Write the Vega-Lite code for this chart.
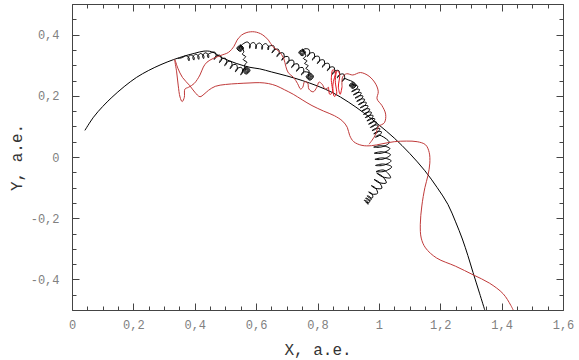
{
"$schema": "https://vega.github.io/schema/vega-lite/v6.json",
"width": 491, "height": 306,
"autosize": {"type": "none"},
"padding": {"left": 72, "top": 4, "right": 16, "bottom": 50},
"config": {"view": {"stroke": null}, "axis": {"labelFont": "Liberation Mono", "titleFont": "Liberation Mono", "labelColor": "#808080", "labelFontSize": 12, "titleFontSize": 16, "titleFontWeight": "normal", "titleColor": "#333333", "tickColor": "#444444", "domainColor": "#444444", "grid": false, "labelOverlap": false, "labelFlush": false}},
"datasets": {
"pts": [
{"s":"b","x":0.042,"y":0.087},{"s":"b","x":0.07,"y":0.13},{"s":"b","x":0.1,"y":0.165},{"s":"b","x":0.13,"y":0.195},{"s":"b","x":0.17,"y":0.23},{"s":"b","x":0.21,"y":0.26},{"s":"b","x":0.25,"y":0.283},{"s":"b","x":0.29,"y":0.302},{"s":"b","x":0.33,"y":0.318},{"s":"b","x":0.37,"y":0.331},{"s":"b","x":0.4,"y":0.339},{"s":"b","x":0.43,"y":0.346},{"s":"b","x":0.455,"y":0.344},{"s":"b","x":0.49,"y":0.324},{"s":"b","x":0.535,"y":0.306},{"s":"b","x":0.58,"y":0.293},{"s":"b","x":0.612,"y":0.288},{"s":"b","x":0.65,"y":0.278},{"s":"b","x":0.7,"y":0.265},{"s":"b","x":0.75,"y":0.25},{"s":"b","x":0.8,"y":0.232},{"s":"b","x":0.85,"y":0.21},{"s":"b","x":0.9,"y":0.18},{"s":"b","x":0.95,"y":0.145},{"s":"b","x":1.0,"y":0.105},{"s":"b","x":1.05,"y":0.062},{"s":"b","x":1.1,"y":0.012},{"s":"b","x":1.15,"y":-0.045},{"s":"b","x":1.19,"y":-0.1},{"s":"b","x":1.225,"y":-0.155},{"s":"b","x":1.25,"y":-0.212},{"s":"b","x":1.272,"y":-0.268},{"s":"b","x":1.29,"y":-0.322},{"s":"b","x":1.307,"y":-0.378},{"s":"b","x":1.328,"y":-0.445},{"s":"b","x":1.345,"y":-0.5},

{"s":"a","x":0.345,"y":0.322},{"s":"a","x":0.36,"y":0.325},
{"s":"a","x":0.3707,"y":0.3309},{"s":"a","x":0.3819,"y":0.3235},{"s":"a","x":0.3813,"y":0.3143},{"s":"a","x":0.378,"y":0.3229},{"s":"a","x":0.3865,"y":0.3333},{"s":"a","x":0.3977,"y":0.3259},{"s":"a","x":0.3971,"y":0.3167},{"s":"a","x":0.3938,"y":0.3253},{"s":"a","x":0.4023,"y":0.3357},{"s":"a","x":0.4135,"y":0.3283},{"s":"a","x":0.413,"y":0.3191},{"s":"a","x":0.4097,"y":0.3277},{"s":"a","x":0.4182,"y":0.3381},{"s":"a","x":0.4294,"y":0.3307},{"s":"a","x":0.4288,"y":0.3215},{"s":"a","x":0.4255,"y":0.3301},{"s":"a","x":0.434,"y":0.3405},{"s":"a","x":0.4452,"y":0.3331},{"s":"a","x":0.4446,"y":0.3239},{"s":"a","x":0.4413,"y":0.3325},{"s":"a","x":0.452,"y":0.34},
{"s":"a","x":0.4655,"y":0.3425},{"s":"a","x":0.4695,"y":0.3275},{"s":"a","x":0.4632,"y":0.3185},{"s":"a","x":0.4678,"y":0.3285},{"s":"a","x":0.4828,"y":0.3325},{"s":"a","x":0.4869,"y":0.3174},{"s":"a","x":0.4805,"y":0.3084},{"s":"a","x":0.4851,"y":0.3184},{"s":"a","x":0.5001,"y":0.3224},{"s":"a","x":0.5042,"y":0.3074},{"s":"a","x":0.4978,"y":0.2984},{"s":"a","x":0.5024,"y":0.3084},{"s":"a","x":0.5175,"y":0.3124},{"s":"a","x":0.5215,"y":0.2974},{"s":"a","x":0.5151,"y":0.2884},{"s":"a","x":0.5198,"y":0.2984},{"s":"a","x":0.5348,"y":0.3023},{"s":"a","x":0.5388,"y":0.2873},{"s":"a","x":0.5324,"y":0.2783},{"s":"a","x":0.5371,"y":0.2883},{"s":"a","x":0.5521,"y":0.2923},{"s":"a","x":0.5561,"y":0.2773},{"s":"a","x":0.5498,"y":0.2683},{"s":"a","x":0.5544,"y":0.2783},
{"s":"a","x":0.568,"y":0.295},{"s":"a","x":0.58,"y":0.283},{"s":"a","x":0.568,"y":0.271},{"s":"a","x":0.556,"y":0.283},{"s":"a","x":0.568,"y":0.292},{"s":"a","x":0.577,"y":0.283},{"s":"a","x":0.568,"y":0.274},{"s":"a","x":0.559,"y":0.283},{"s":"a","x":0.568,"y":0.289},{"s":"a","x":0.574,"y":0.283},{"s":"a","x":0.568,"y":0.277},{"s":"a","x":0.562,"y":0.283},{"s":"a","x":0.568,"y":0.286},{"s":"a","x":0.571,"y":0.283},{"s":"a","x":0.568,"y":0.28},{"s":"a","x":0.565,"y":0.285},
{"s":"a","x":0.562,"y":0.3},{"s":"a","x":0.57,"y":0.31},{"s":"a","x":0.558,"y":0.318},{"s":"a","x":0.566,"y":0.328},{"s":"a","x":0.555,"y":0.336},{"s":"a","x":0.56,"y":0.344},
{"s":"a","x":0.548,"y":0.367},{"s":"a","x":0.559,"y":0.356},{"s":"a","x":0.548,"y":0.345},{"s":"a","x":0.537,"y":0.356},{"s":"a","x":0.548,"y":0.364},{"s":"a","x":0.556,"y":0.356},{"s":"a","x":0.548,"y":0.348},{"s":"a","x":0.54,"y":0.356},{"s":"a","x":0.548,"y":0.361},{"s":"a","x":0.553,"y":0.356},{"s":"a","x":0.548,"y":0.351},{"s":"a","x":0.543,"y":0.356},{"s":"a","x":0.548,"y":0.359},{"s":"a","x":0.551,"y":0.356},{"s":"a","x":0.548,"y":0.353},{"s":"a","x":0.545,"y":0.357},
{"s":"a","x":0.5709,"y":0.376},{"s":"a","x":0.581,"y":0.3651},{"s":"a","x":0.5791,"y":0.3551},{"s":"a","x":0.579,"y":0.3652},{"s":"a","x":0.5909,"y":0.3742},{"s":"a","x":0.601,"y":0.3633},{"s":"a","x":0.5991,"y":0.3533},{"s":"a","x":0.599,"y":0.3634},{"s":"a","x":0.6109,"y":0.3724},{"s":"a","x":0.621,"y":0.3615},{"s":"a","x":0.6191,"y":0.3515},{"s":"a","x":0.619,"y":0.3616},{"s":"a","x":0.6309,"y":0.3706},{"s":"a","x":0.641,"y":0.3597},{"s":"a","x":0.6391,"y":0.3497},{"s":"a","x":0.639,"y":0.3598},
{"s":"a","x":0.6566,"y":0.3638},{"s":"a","x":0.6588,"y":0.3484},{"s":"a","x":0.6514,"y":0.3402},{"s":"a","x":0.6572,"y":0.3496},{"s":"a","x":0.6726,"y":0.3518},{"s":"a","x":0.6748,"y":0.3364},{"s":"a","x":0.6674,"y":0.3282},{"s":"a","x":0.6732,"y":0.3376},{"s":"a","x":0.6886,"y":0.3398},{"s":"a","x":0.6908,"y":0.3244},{"s":"a","x":0.6834,"y":0.3162},{"s":"a","x":0.6892,"y":0.3256},{"s":"a","x":0.7046,"y":0.3278},{"s":"a","x":0.7068,"y":0.3124},{"s":"a","x":0.6994,"y":0.3042},{"s":"a","x":0.7052,"y":0.3136},{"s":"a","x":0.7206,"y":0.3158},{"s":"a","x":0.7228,"y":0.3004},{"s":"a","x":0.7154,"y":0.2922},{"s":"a","x":0.7212,"y":0.3016},{"s":"a","x":0.7366,"y":0.3038},{"s":"a","x":0.7388,"y":0.2884},{"s":"a","x":0.7314,"y":0.2802},{"s":"a","x":0.7372,"y":0.2896},{"s":"a","x":0.7526,"y":0.2918},{"s":"a","x":0.7548,"y":0.2764},{"s":"a","x":0.7474,"y":0.2682},{"s":"a","x":0.7532,"y":0.2776},
{"s":"a","x":0.775,"y":0.275},{"s":"a","x":0.787,"y":0.263},{"s":"a","x":0.775,"y":0.251},{"s":"a","x":0.763,"y":0.263},{"s":"a","x":0.775,"y":0.272},{"s":"a","x":0.784,"y":0.263},{"s":"a","x":0.775,"y":0.254},{"s":"a","x":0.766,"y":0.263},{"s":"a","x":0.775,"y":0.269},{"s":"a","x":0.781,"y":0.263},{"s":"a","x":0.775,"y":0.257},{"s":"a","x":0.769,"y":0.263},{"s":"a","x":0.775,"y":0.266},{"s":"a","x":0.778,"y":0.263},{"s":"a","x":0.775,"y":0.26},{"s":"a","x":0.771,"y":0.265},
{"s":"a","x":0.772,"y":0.282},{"s":"a","x":0.762,"y":0.29},{"s":"a","x":0.77,"y":0.298},{"s":"a","x":0.758,"y":0.306},{"s":"a","x":0.766,"y":0.314},{"s":"a","x":0.754,"y":0.322},{"s":"a","x":0.762,"y":0.33},
{"s":"a","x":0.75,"y":0.353},{"s":"a","x":0.761,"y":0.342},{"s":"a","x":0.75,"y":0.331},{"s":"a","x":0.739,"y":0.342},{"s":"a","x":0.75,"y":0.35},{"s":"a","x":0.758,"y":0.342},{"s":"a","x":0.75,"y":0.334},{"s":"a","x":0.742,"y":0.342},{"s":"a","x":0.75,"y":0.347},{"s":"a","x":0.755,"y":0.342},{"s":"a","x":0.75,"y":0.337},{"s":"a","x":0.745,"y":0.342},{"s":"a","x":0.75,"y":0.344},{"s":"a","x":0.752,"y":0.342},{"s":"a","x":0.755,"y":0.352},
{"s":"a","x":0.7714,"y":0.352},{"s":"a","x":0.774,"y":0.3366},{"s":"a","x":0.7667,"y":0.3282},{"s":"a","x":0.7723,"y":0.3378},{"s":"a","x":0.7877,"y":0.3404},{"s":"a","x":0.7903,"y":0.325},{"s":"a","x":0.783,"y":0.3166},{"s":"a","x":0.7886,"y":0.3262},{"s":"a","x":0.804,"y":0.3288},{"s":"a","x":0.8065,"y":0.3134},{"s":"a","x":0.7993,"y":0.305},{"s":"a","x":0.8049,"y":0.3146},{"s":"a","x":0.8202,"y":0.3172},{"s":"a","x":0.8228,"y":0.3018},{"s":"a","x":0.8156,"y":0.2934},{"s":"a","x":0.8212,"y":0.303},{"s":"a","x":0.8365,"y":0.3056},{"s":"a","x":0.8391,"y":0.2902},{"s":"a","x":0.8319,"y":0.2818},{"s":"a","x":0.8374,"y":0.2914},{"s":"a","x":0.8528,"y":0.294},{"s":"a","x":0.8554,"y":0.2786},{"s":"a","x":0.8481,"y":0.2702},{"s":"a","x":0.8537,"y":0.2798},{"s":"a","x":0.8691,"y":0.2824},{"s":"a","x":0.8716,"y":0.267},{"s":"a","x":0.8644,"y":0.2586},{"s":"a","x":0.87,"y":0.2682},{"s":"a","x":0.8854,"y":0.2708},{"s":"a","x":0.8879,"y":0.2554},{"s":"a","x":0.8807,"y":0.247},{"s":"a","x":0.8863,"y":0.2566},{"s":"a","x":0.9,"y":0.252},
{"s":"a","x":0.915,"y":0.246},{"s":"a","x":0.926,"y":0.235},{"s":"a","x":0.915,"y":0.224},{"s":"a","x":0.904,"y":0.235},{"s":"a","x":0.915,"y":0.243},{"s":"a","x":0.923,"y":0.235},{"s":"a","x":0.915,"y":0.227},{"s":"a","x":0.907,"y":0.235},{"s":"a","x":0.915,"y":0.24},{"s":"a","x":0.92,"y":0.235},{"s":"a","x":0.915,"y":0.23},{"s":"a","x":0.91,"y":0.235},{"s":"a","x":0.915,"y":0.238},{"s":"a","x":0.918,"y":0.235},{"s":"a","x":0.915,"y":0.232},{"s":"a","x":0.912,"y":0.236},
{"s":"a","x":0.9315,"y":0.231},{"s":"a","x":0.9232,"y":0.2187},{"s":"a","x":0.9113,"y":0.2137},{"s":"a","x":0.9223,"y":0.2206},{"s":"a","x":0.937,"y":0.2204},{"s":"a","x":0.9287,"y":0.2081},{"s":"a","x":0.9168,"y":0.203},{"s":"a","x":0.9279,"y":0.21},{"s":"a","x":0.9425,"y":0.2097},{"s":"a","x":0.9342,"y":0.1975},{"s":"a","x":0.9223,"y":0.1924},{"s":"a","x":0.9334,"y":0.1993},{"s":"a","x":0.9481,"y":0.1991},{"s":"a","x":0.9397,"y":0.1868},{"s":"a","x":0.9278,"y":0.1818},{"s":"a","x":0.9389,"y":0.1887},{"s":"a","x":0.9536,"y":0.1884},{"s":"a","x":0.9453,"y":0.1762},{"s":"a","x":0.9333,"y":0.1711},{"s":"a","x":0.9444,"y":0.1781},{"s":"a","x":0.9591,"y":0.1778},{"s":"a","x":0.9508,"y":0.1655},{"s":"a","x":0.9389,"y":0.1605},{"s":"a","x":0.9499,"y":0.1674},{"s":"a","x":0.9646,"y":0.1672},{"s":"a","x":0.9563,"y":0.1549},{"s":"a","x":0.9444,"y":0.1498},{"s":"a","x":0.9555,"y":0.1568},{"s":"a","x":0.9701,"y":0.1565},{"s":"a","x":0.9618,"y":0.1443},{"s":"a","x":0.9499,"y":0.1392},{"s":"a","x":0.961,"y":0.1461},{"s":"a","x":0.9757,"y":0.1459},{"s":"a","x":0.9673,"y":0.1336},{"s":"a","x":0.9554,"y":0.1286},{"s":"a","x":0.9665,"y":0.1355},{"s":"a","x":0.9812,"y":0.1352},{"s":"a","x":0.9729,"y":0.123},{"s":"a","x":0.9609,"y":0.1179},{"s":"a","x":0.972,"y":0.1249},{"s":"a","x":0.9867,"y":0.1246},{"s":"a","x":0.9784,"y":0.1123},{"s":"a","x":0.9665,"y":0.1073},{"s":"a","x":0.9775,"y":0.1142},{"s":"a","x":0.9922,"y":0.114},{"s":"a","x":0.9839,"y":0.1017},{"s":"a","x":0.972,"y":0.0966},{"s":"a","x":0.9831,"y":0.1036},{"s":"a","x":0.9977,"y":0.1033},{"s":"a","x":0.9894,"y":0.0911},{"s":"a","x":0.9775,"y":0.086},{"s":"a","x":0.9886,"y":0.0929},{"s":"a","x":1.0033,"y":0.0927},{"s":"a","x":0.9949,"y":0.0804},{"s":"a","x":0.983,"y":0.0754},{"s":"a","x":0.9941,"y":0.0823},{"s":"a","x":1.0088,"y":0.082},{"s":"a","x":1.0005,"y":0.0698},{"s":"a","x":0.9885,"y":0.0647},{"s":"a","x":0.9996,"y":0.0717},
{"s":"a","x":1.0339,"y":0.0476},{"s":"a","x":1.0092,"y":0.033},{"s":"a","x":0.9831,"y":0.0324},{"s":"a","x":1.0088,"y":0.037},{"s":"a","x":1.0359,"y":0.0276},{"s":"a","x":1.0112,"y":0.013},{"s":"a","x":0.9851,"y":0.0124},{"s":"a","x":1.0108,"y":0.017},{"s":"a","x":1.0379,"y":0.0076},{"s":"a","x":1.0132,"y":-0.007},{"s":"a","x":0.9871,"y":-0.0076},{"s":"a","x":1.0128,"y":-0.003},{"s":"a","x":1.0399,"y":-0.0124},{"s":"a","x":1.0152,"y":-0.027},{"s":"a","x":0.9891,"y":-0.0276},{"s":"a","x":1.0148,"y":-0.023},{"s":"a","x":1.0419,"y":-0.0324},{"s":"a","x":1.0172,"y":-0.047},{"s":"a","x":0.9911,"y":-0.0476},{"s":"a","x":1.0168,"y":-0.043},
{"s":"a","x":1.0384,"y":-0.0676},{"s":"a","x":1.012,"y":-0.0648},{"s":"a","x":0.9931,"y":-0.0527},{"s":"a","x":1.0124,"y":-0.064},{"s":"a","x":1.0241,"y":-0.0847},{"s":"a","x":1.0004,"y":-0.0836},{"s":"a","x":0.9842,"y":-0.0732},{"s":"a","x":1.0008,"y":-0.0828},{"s":"a","x":1.0098,"y":-0.1018},{"s":"a","x":0.9888,"y":-0.1024},{"s":"a","x":0.9754,"y":-0.0936},{"s":"a","x":0.9892,"y":-0.1016},{"s":"a","x":0.9955,"y":-0.1189},{"s":"a","x":0.9772,"y":-0.1212},{"s":"a","x":0.9665,"y":-0.1141},{"s":"a","x":0.9776,"y":-0.1204},
{"s":"a","x":0.9797,"y":-0.1327},{"s":"a","x":0.9687,"y":-0.1332},{"s":"a","x":0.9619,"y":-0.1269},{"s":"a","x":0.9705,"y":-0.13},{"s":"a","x":0.9749,"y":-0.1399},{"s":"a","x":0.9639,"y":-0.1404},{"s":"a","x":0.9571,"y":-0.1341},{"s":"a","x":0.9657,"y":-0.1372},{"s":"a","x":0.9701,"y":-0.1471},{"s":"a","x":0.9591,"y":-0.1476},{"s":"a","x":0.9523,"y":-0.1413},{"s":"a","x":0.9609,"y":-0.1444},{"s":"a","x":0.9653,"y":-0.1543},{"s":"a","x":0.958,"y":-0.148},

{"s":"r","x":0.968,"y":0.042},{"s":"r","x":0.978,"y":0.055},{"s":"r","x":0.99,"y":0.075},{"s":"r","x":0.998,"y":0.099},{"s":"r","x":1.018,"y":0.112},{"s":"r","x":1.022,"y":0.14},{"s":"r","x":1.01,"y":0.168},{"s":"r","x":0.994,"y":0.19},{"s":"r","x":0.998,"y":0.213},{"s":"r","x":0.99,"y":0.238},{"s":"r","x":0.968,"y":0.264},{"s":"r","x":0.94,"y":0.276},{"s":"r","x":0.915,"y":0.268},{"s":"r","x":0.895,"y":0.272},{"s":"r","x":0.882,"y":0.262},{"s":"r","x":0.88,"y":0.23},

{"s":"q","x":0.88,"y":0.23},{"s":"q","x":0.874,"y":0.205},{"s":"q","x":0.868,"y":0.228},{"s":"q","x":0.872,"y":0.272},{"s":"q","x":0.864,"y":0.282},{"s":"q","x":0.858,"y":0.25},{"s":"q","x":0.862,"y":0.205},{"s":"q","x":0.855,"y":0.198},{"s":"q","x":0.85,"y":0.235},{"s":"q","x":0.858,"y":0.278},{"s":"q","x":0.85,"y":0.285},{"s":"q","x":0.845,"y":0.255},{"s":"q","x":0.848,"y":0.21},{"s":"q","x":0.84,"y":0.205},{"s":"q","x":0.836,"y":0.228},

{"s":"t","x":0.836,"y":0.228},{"s":"t","x":0.825,"y":0.222},{"s":"t","x":0.815,"y":0.238},{"s":"t","x":0.805,"y":0.245},{"s":"t","x":0.798,"y":0.228},{"s":"t","x":0.786,"y":0.213},{"s":"t","x":0.772,"y":0.222},{"s":"t","x":0.768,"y":0.242},{"s":"t","x":0.758,"y":0.246},{"s":"t","x":0.752,"y":0.228},{"s":"t","x":0.745,"y":0.222},{"s":"t","x":0.735,"y":0.24},{"s":"t","x":0.722,"y":0.26},{"s":"t","x":0.705,"y":0.275},{"s":"t","x":0.697,"y":0.295},{"s":"t","x":0.69,"y":0.322},{"s":"t","x":0.675,"y":0.345},{"s":"t","x":0.655,"y":0.36},{"s":"t","x":0.64,"y":0.382},{"s":"t","x":0.62,"y":0.4},{"s":"t","x":0.595,"y":0.409},{"s":"t","x":0.57,"y":0.407},{"s":"t","x":0.552,"y":0.398},{"s":"t","x":0.538,"y":0.382},{"s":"t","x":0.528,"y":0.362},{"s":"t","x":0.51,"y":0.342},{"s":"t","x":0.485,"y":0.332},{"s":"t","x":0.46,"y":0.322},{"s":"t","x":0.44,"y":0.31},{"s":"t","x":0.428,"y":0.294},{"s":"t","x":0.417,"y":0.268},{"s":"t","x":0.398,"y":0.24},{"s":"t","x":0.38,"y":0.228},{"s":"t","x":0.368,"y":0.222},{"s":"t","x":0.366,"y":0.195},{"s":"t","x":0.359,"y":0.181},{"s":"t","x":0.352,"y":0.196},{"s":"t","x":0.346,"y":0.235},{"s":"t","x":0.341,"y":0.278},{"s":"t","x":0.335,"y":0.318},{"s":"t","x":0.345,"y":0.29},{"s":"t","x":0.36,"y":0.26},{"s":"t","x":0.384,"y":0.233},{"s":"t","x":0.4,"y":0.212},{"s":"t","x":0.417,"y":0.197},{"s":"t","x":0.43,"y":0.205},{"s":"t","x":0.445,"y":0.218},{"s":"t","x":0.467,"y":0.231},{"s":"t","x":0.5,"y":0.237},{"s":"t","x":0.54,"y":0.24},{"s":"t","x":0.58,"y":0.242},{"s":"t","x":0.612,"y":0.243},{"s":"t","x":0.64,"y":0.24},{"s":"t","x":0.665,"y":0.233},{"s":"t","x":0.692,"y":0.22},{"s":"t","x":0.721,"y":0.205},{"s":"t","x":0.75,"y":0.187},{"s":"t","x":0.782,"y":0.168},{"s":"t","x":0.82,"y":0.15},{"s":"t","x":0.855,"y":0.135},{"s":"t","x":0.882,"y":0.117},{"s":"t","x":0.897,"y":0.097},{"s":"t","x":0.905,"y":0.07},{"s":"t","x":0.918,"y":0.05},{"s":"t","x":0.945,"y":0.038},{"s":"t","x":0.976,"y":0.037},{"s":"t","x":1.01,"y":0.043},{"s":"t","x":1.05,"y":0.05},{"s":"t","x":1.09,"y":0.052},{"s":"t","x":1.125,"y":0.05},{"s":"t","x":1.152,"y":0.04},{"s":"t","x":1.164,"y":0.015},{"s":"t","x":1.166,"y":-0.02},{"s":"t","x":1.16,"y":-0.06},{"s":"t","x":1.15,"y":-0.1},{"s":"t","x":1.14,"y":-0.16},{"s":"t","x":1.135,"y":-0.22},{"s":"t","x":1.138,"y":-0.265},{"s":"t","x":1.152,"y":-0.297},{"s":"t","x":1.188,"y":-0.33},{"s":"t","x":1.25,"y":-0.357},{"s":"t","x":1.307,"y":-0.385},{"s":"t","x":1.36,"y":-0.412},{"s":"t","x":1.405,"y":-0.447},{"s":"t","x":1.43,"y":-0.485},{"s":"t","x":1.44,"y":-0.505}
]},
"data": {"name": "pts"},
"layer": [
{"mark": {"type": "line", "interpolate": "catmull-rom", "strokeWidth": 1, "clip": true},
 "encoding": {
  "x": {"field": "x", "type": "quantitative", "scale": {"domain": [0, 1.6], "nice": false, "zero": false},
    "axis": {"orient": "bottom", "values": [0,0.05,0.1,0.15,0.2,0.25,0.3,0.35,0.4,0.45,0.5,0.55,0.6,0.65,0.7,0.75,0.8,0.85,0.9,0.95,1,1.05,1.1,1.15,1.2,1.25,1.3,1.35,1.4,1.45,1.5,1.55,1.6],
      "labelExpr": "abs(datum.value*5-round(datum.value*5))<0.001 ? replace(replace(format(datum.value,'.1~f'),'.',','),'\u2212','-') : ''",
      "tickSize": {"condition": {"test": "abs(datum.value*5-round(datum.value*5))<0.001", "value": -7}, "value": -4},
      "labelPadding": 16, "title": "X, a.e.", "titlePadding": 8}},
  "y": {"field": "y", "type": "quantitative", "scale": {"domain": [-0.5, 0.5], "nice": false, "zero": false},
    "axis": {"orient": "left", "values": [-0.5,-0.45,-0.4,-0.35,-0.3,-0.25,-0.2,-0.15,-0.1,-0.05,0,0.05,0.1,0.15,0.2,0.25,0.3,0.35,0.4,0.45,0.5],
      "labelExpr": "abs(datum.value*5-round(datum.value*5))<0.001 ? replace(replace(format(datum.value,'.1~f'),'.',','),'\u2212','-') : ''",
      "tickSize": {"condition": {"test": "abs(datum.value*5-round(datum.value*5))<0.001", "value": -7}, "value": -4},
      "labelPadding": 20, "title": "Y, a.e.", "titlePadding": 6}},
  "color": {"field": "s", "type": "nominal", "scale": {"domain": ["a","b","r","q","t"], "range": ["#000000","#000000","#c03a3a","#e0141e","#c03a3a"]}, "legend": null},
  "order": {"value": null}
 }},
{"transform": [{"filter": "datum.x > 100"}],
 "mark": {"type": "line"},
 "encoding": {
  "x": {"field": "x", "type": "quantitative", "scale": {"domain": [0, 1.6], "nice": false, "zero": false},
    "axis": {"orient": "top", "values": [0,0.05,0.1,0.15,0.2,0.25,0.3,0.35,0.4,0.45,0.5,0.55,0.6,0.65,0.7,0.75,0.8,0.85,0.9,0.95,1,1.05,1.1,1.15,1.2,1.25,1.3,1.35,1.4,1.45,1.5,1.55,1.6], "labels": false, "title": null,
      "tickSize": {"condition": {"test": "abs(datum.value*5-round(datum.value*5))<0.001", "value": -7}, "value": -4}}},
  "y": {"field": "y", "type": "quantitative", "scale": {"domain": [-0.5, 0.5], "nice": false, "zero": false},
    "axis": {"orient": "right", "values": [-0.5,-0.45,-0.4,-0.35,-0.3,-0.25,-0.2,-0.15,-0.1,-0.05,0,0.05,0.1,0.15,0.2,0.25,0.3,0.35,0.4,0.45,0.5], "labels": false, "title": null,
      "tickSize": {"condition": {"test": "abs(datum.value*5-round(datum.value*5))<0.001", "value": -7}, "value": -4}}}
 }}
],
"resolve": {"axis": {"x": "independent", "y": "independent"}}
}
